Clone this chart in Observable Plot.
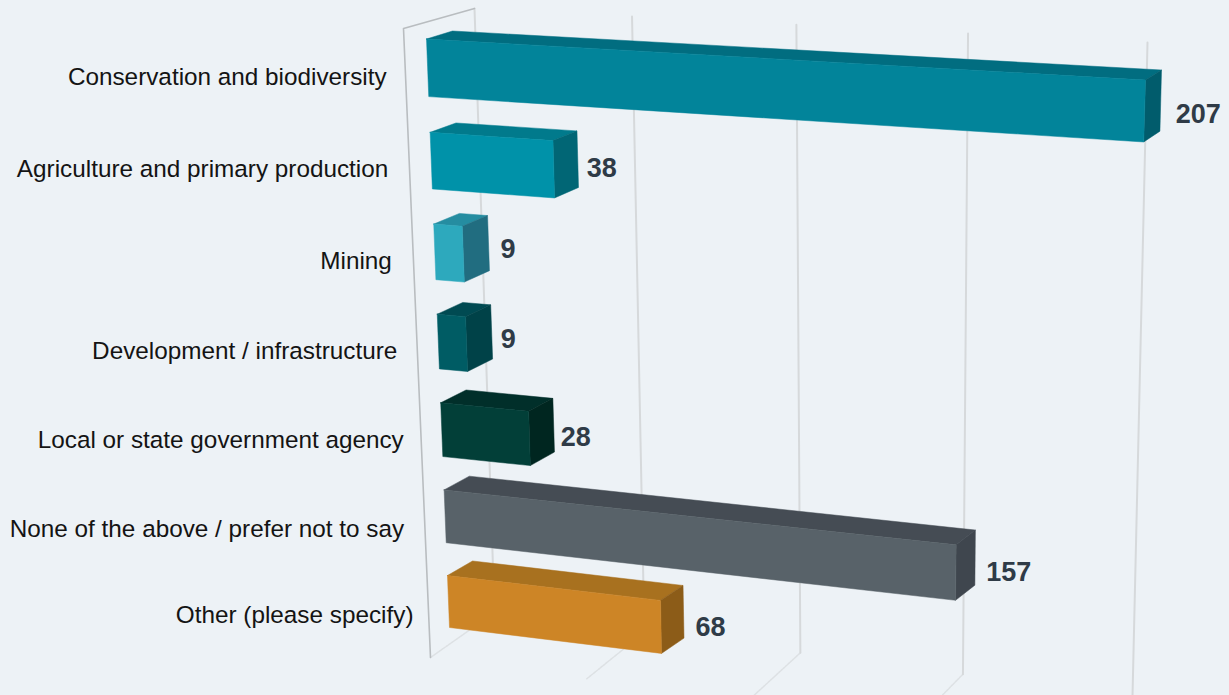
<!DOCTYPE html>
<html>
<head>
<meta charset="utf-8">
<title>Sector of respondents</title>
<style>
  html, body { margin: 0; padding: 0; background: #edf2f6; overflow: hidden; }
  svg { display: block; }
</style>
<script src="https://cdn.jsdelivr.net/npm/d3@7"></script>
<script src="https://cdn.jsdelivr.net/npm/@observablehq/plot@0.6"></script>
</head>
<body>
<script>
// Chart values
const categories = [
  "Conservation and biodiversity",
  "Agriculture and primary production",
  "Mining",
  "Development / infrastructure",
  "Local or state government agency",
  "None of the above / prefer not to say",
  "Other (please specify)"
];
const counts = [207, 38, 9, 9, 28, 157, 68];
const ticks = [0, 50, 100, 150, 200];

// Face colours per bar: front, top, side
const frontColors = ["#02849a", "#0092a9", "#2da9bd", "#005c64", "#023f38", "#586269", "#cd8526"];
const topColors = ["#016d80", "#017a8c", "#258da1", "#004a52", "#012f2a", "#454c54", "#a8711f"];
const sideColors = ["#015c6c", "#016675", "#216d80", "#004248", "#002620", "#3f464e", "#8c5c18"];

// Perspective frame: each plane is a quad [top-left, top-right, bottom-right, bottom-left]
const VALUE_MAX_BARS = 207;
const VALUE_MAX_GRID = 200;
const barFrontPlane = [[426, 38.5], [1145, 79.5], [1127, 710], [449, 627]];
const barBackPlane = [[452, 30.5], [1161, 69.5], [1145, 694], [474, 612]];
const wallBackPlane = [[474, 8], [1147, 42], [1132, 696], [494, 612]];
const wallFrontPlane = [[403, 28], [1105, 80], [1085, 748], [430, 657]];
const BAR_BAND = 0.093;

// Label placement around the projected bar positions
const labelGaps = [41, 43, 43, 41, 38, 41, 35];
const labelDrops = [9, 8, 9, 10, 10, 13, 14];
const valueNudgeX = [4, -2, 1, -2, -4, 0, 1];
const valueNudgeY = [3, -1, -5, -5, -1, 0, 0];

// Maps the unit square (u, s) onto a quad with a projective transform
function planeProjection([p0, p1, p2, p3]) {
  const dx1 = p1[0] - p2[0], dx2 = p3[0] - p2[0], sx = p0[0] - p1[0] + p2[0] - p3[0];
  const dy1 = p1[1] - p2[1], dy2 = p3[1] - p2[1], sy = p0[1] - p1[1] + p2[1] - p3[1];
  const det = dx1 * dy2 - dx2 * dy1;
  const g = (sx * dy2 - dx2 * sy) / det;
  const h = (dx1 * sy - sx * dy1) / det;
  const a = p1[0] - p0[0] + g * p1[0], b = p3[0] - p0[0] + h * p3[0];
  const d = p1[1] - p0[1] + g * p1[1], e = p3[1] - p0[1] + h * p3[1];
  return (u, s) => {
    const w = g * u + h * s + 1;
    return [(a * u + b * s + p0[0]) / w, (d * u + e * s + p0[1]) / w];
  };
}

const barFront = planeProjection(barFrontPlane);
const barBack = planeProjection(barBackPlane);
const wallBack = planeProjection(wallBackPlane);
const wallFront = planeProjection(wallFrontPlane);

const rowPitch = (1 - BAR_BAND) / (categories.length - 1);

// Polygon vertices for the three visible faces of every bar
const faces = [];
function addFace(id, color, corners) {
  [...corners, corners[0]].forEach(([x, y]) => faces.push({id, color, x, y}));
}
counts.forEach((count, i) => {
  const u = count / VALUE_MAX_BARS;
  const s0 = i * rowPitch, s1 = s0 + BAR_BAND;
  addFace(`top-${i}`, topColors[i], [barFront(0, s0), barFront(u, s0), barBack(u, s0), barBack(0, s0)]);
  addFace(`side-${i}`, sideColors[i], [barFront(u, s0), barBack(u, s0), barBack(u, s1), barFront(u, s1)]);
  addFace(`front-${i}`, frontColors[i], [barFront(0, s0), barFront(u, s0), barFront(u, s1), barFront(0, s1)]);
});

// Gridlines on the back wall and their continuation across the floor
const wallLines = [];
const floorLines = [];
ticks.forEach(tick => {
  const u = tick / VALUE_MAX_GRID;
  const top = wallBack(u, 0), bottom = wallBack(u, 1), floor = wallFront(u, 1);
  [top, bottom].forEach(([x, y]) => wallLines.push({tick, x, y}));
  [bottom, floor].forEach(([x, y]) => floorLines.push({tick, x, y}));
});
const sideWall = [wallBack(0, 0), wallFront(0, 0), wallFront(0, 1)].map(([x, y]) => ({x, y}));

// Category names to the left of the bars, counts beside the bar ends
const categoryLabels = categories.map((name, i) => {
  const [x, y] = barFront(0, i * rowPitch + BAR_BAND / 2);
  return {name, x: x - labelGaps[i], y: y + labelDrops[i]};
});
const valueLabels = counts.map((count, i) => {
  const u = count / VALUE_MAX_BARS;
  const s = i * rowPitch + BAR_BAND / 2;
  return {count, x: barBack(u, s)[0] + 11 + valueNudgeX[i], y: barFront(u, s)[1] + valueNudgeY[i]};
});

const chart = Plot.plot({
  width: 1229,
  height: 695,
  margin: 0,
  x: {domain: [0, 1229], range: [0, 1229], axis: null},
  y: {domain: [0, 695], range: [0, 695], axis: null},
  style: {background: "#edf2f6"},
  marks: [
    Plot.line(floorLines, {x: "x", y: "y", z: "tick", stroke: "#dde1e4", strokeWidth: 1.5, strokeDasharray: "2 1"}),
    Plot.line(wallLines, {x: "x", y: "y", z: "tick", stroke: "#d6d9db", strokeWidth: 2}),
    Plot.line(sideWall, {x: "x", y: "y", stroke: "#b9bdc0", strokeWidth: 1.6}),
    Plot.line(faces, {x: "x", y: "y", z: "id", fill: "color", stroke: "color", strokeWidth: 0.5}),
    Plot.text(categoryLabels, {
      x: "x", y: "y", text: "name", textAnchor: "end",
      fontFamily: "Liberation Sans", fontSize: 24.3, fill: "#141414"
    }),
    Plot.text(valueLabels, {
      x: "x", y: "y", text: "count", textAnchor: "start",
      fontFamily: "Liberation Sans", fontSize: 27, fontWeight: "bold", fill: "#2f3b47"
    })
  ]
});
document.body.append(chart);
</script>
</body>
</html>
